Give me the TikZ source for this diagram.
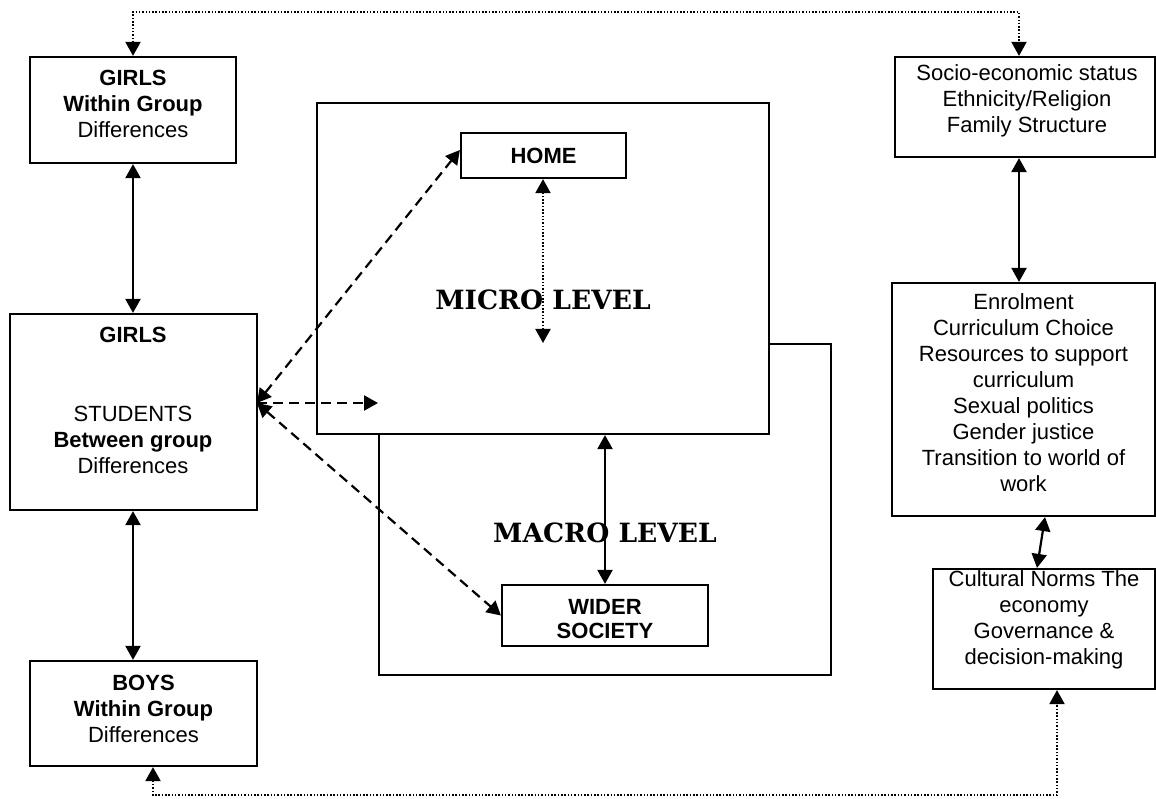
\documentclass[tikz,border=0pt]{standalone}
\usepackage{fontspec}
\setmainfont{Liberation Sans}
\newfontfamily\levelfont{DejaVu Serif}
\usetikzlibrary{arrows.meta}
\begin{document}
\begin{tikzpicture}[x=1pt,y=-1pt,
  box/.style={draw,line width=2.2pt,fill=white,inner sep=0pt},
  txt/.style={inner sep=0pt,align=center,font=\fontsize{22}{26}\selectfont},
  lvl/.style={inner sep=0pt,font=\levelfont\bfseries\fontsize{26.5}{30}\selectfont},
  solidarrow/.style={line width=2.2pt,{Triangle[length=14pt,width=15pt]}-{Triangle[length=14pt,width=15pt]}},
  dashedarrow/.style={line width=2.2pt,dash pattern=on 10pt off 6pt,{Triangle[length=14pt,width=15pt]}-{Triangle[length=14pt,width=15pt]}},
  dashedone/.style={line width=2.2pt,dash pattern=on 10pt off 6pt,-{Triangle[length=14pt,width=15pt]}},
  dotarrow/.style={line width=2pt,dash pattern=on 1.5pt off 1.8pt,{Triangle[length=14pt,width=15pt]}-{Triangle[length=14pt,width=15pt]}},
]
\useasboundingbox (0,0) rectangle (1156,799);

% large level boxes
\node[box,line width=2pt,minimum width=452pt,minimum height=331pt] (macro) at (605,509.5) {};
\node[box,minimum width=452pt,minimum height=331pt] (micro) at (543,268.5) {};

% left column
\node[box,minimum width=206pt,minimum height=106pt] (g1) at (133,110) {};
\node[txt] (g1t) at (133,104) {\textbf{GIRLS}\\\textbf{Within Group}\\Differences};

\node[box,minimum width=247pt,minimum height=196pt] (g2) at (133.5,412) {};
\node[txt] (g2a) at (133,335) {\textbf{GIRLS}};
\node[txt] (g2b) at (133,440) {STUDENTS\\\textbf{Between group}\\Differences};

\node[box,minimum width=227pt,minimum height=105pt] (boys) at (143.5,713.5) {};
\node[txt] (boyst) at (143.5,709) {\textbf{BOYS}\\\textbf{Within Group}\\Differences};

% inner boxes
\node[box,minimum width=165pt,minimum height=45pt] (home) at (543.5,155.5) {};
\node[txt] (homet) at (543.5,155.5) {\textbf{HOME}};
\node[box,minimum width=206pt,minimum height=61pt] (wider) at (605,615.5) {};
\node[txt,font=\fontsize{22}{24}\selectfont] (widert) at (605,619) {\textbf{WIDER}\\\textbf{SOCIETY}};

\node[lvl] (microt) at (543,300) {MICRO LEVEL};
\node[lvl] (macrot) at (605,533) {MACRO LEVEL};

% right column
\node[box,minimum width=260pt,minimum height=100pt] (socio) at (1025,107) {};
\node[txt] (sociot) at (1027,101) {Socio-economic status\\Ethnicity/Religion\\Family Structure};

\node[box,minimum width=263pt,minimum height=233pt] (enrol) at (1023.5,399.5) {};
\node[txt] (enrolt) at (1023.5,393) {Enrolment\\Curriculum Choice\\Resources to support\\curriculum\\Sexual politics\\Gender justice\\Transition to world of\\work};

\node[box,minimum width=222pt,minimum height=120pt] (cult) at (1044,629) {};
\node[txt] (cultt) at (1044,620) {Cultural Norms The\\economy\\Governance \&\\decision-making};

% coordinates
\coordinate (tl) at (133,12);
\coordinate (tr) at (1019,12);
\coordinate (bl) at (153,795);
\coordinate (br) at (1057,795);
\coordinate (src) at (257,403);
\coordinate (midend) at (378,403);
\coordinate (homeend) at (543,343);
\coordinate (ec1) at (1045,516);
\coordinate (ec2) at (1037,569);

% dotted outer loops
\draw[dotarrow] (g1.north) -- (tl) -- (tr) -- (tr |- socio.north);
\draw[dotarrow] (bl |- boys.south) -- (bl) -- (br) -- (br |- cult.south);

% solid arrows left column
\draw[solidarrow] (g1.south) -- (g1.south |- g2.north);
\draw[solidarrow] (g2.south -| g1.south) -- (g1.south |- boys.north);

% dashed arrows
\draw[dashedarrow] (src) -- (home.west |- 0,150);
\draw[dashedone] (src) -- (midend);
\draw[dashedarrow] (src) -- (wider.west);

% inner arrows
\draw[dotarrow] (home.south -| homeend) -- (homeend);
\draw[solidarrow] (wider.north |- micro.south) -- (wider.north);

% right column arrows
\draw[solidarrow] (tr |- socio.south) -- (tr |- enrol.north);
\draw[solidarrow] (ec1 |- enrol.south) -- (ec2 |- cult.north);
\end{tikzpicture}
\end{document}
